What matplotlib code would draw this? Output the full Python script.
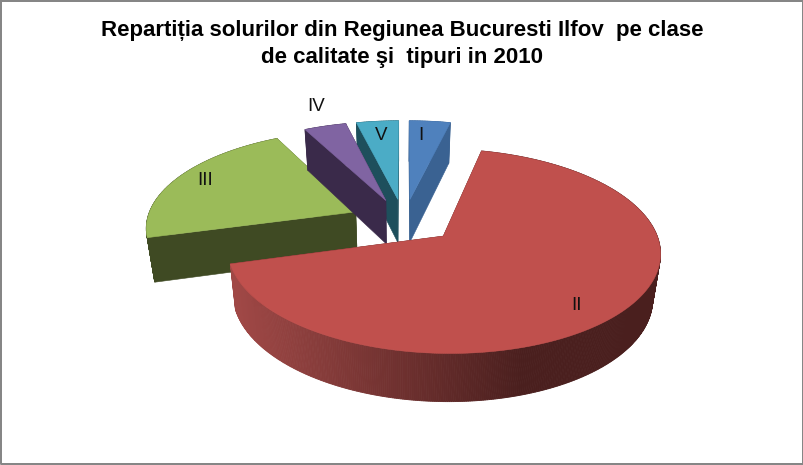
import numpy as np
import matplotlib
matplotlib.use('Agg')
import matplotlib.pyplot as plt
from matplotlib.colors import to_rgb

# share of each quality class, clockwise from 12 o'clock
categories = ['I', 'II', 'III', 'IV', 'V']
shares = [3.7, 67.0, 21.7, 3.8, 3.8]

top_colors = ['#4F81BD', '#C0504D', '#9BBB59', '#8064A2', '#4BACC6']
side_colors = ['#3A6292', '#4A1F1E', '#3F4A23', '#3A2A4A', '#1E4F5C']
label_pos = [(421, 135), (577, 305), (205, 180), (316, 106), (381, 135)]

title = 'Repartiția solurilor din Regiunea Bucuresti Ilfov  pe clase\nde calitate şi  tipuri in 2010'

# projection of the pie plane to pixels
CX, CY = 404, 220.5
KX, KY = 209, 95.5
PERSP = 0.144
EXPLODE_X, EXPLODE_Y = 0.255, 0.23
DEPTH = 44


def project(x, y, z=0.0):
    f = 1.0 / (1.0 + PERSP * y)
    px = CX + KX * x * f
    py = CY - KY * y * f + DEPTH * z * np.sqrt(f)
    # depth lines converge towards the middle
    px = px - 0.03 * z * (px - 400)
    return px, py


def slice_points(a0, a1, n):
    mid = (a0 + a1) / 2
    ox, oy = EXPLODE_X * np.sin(mid), EXPLODE_Y * np.cos(mid)
    ang = np.linspace(a0, a1, n)
    return ox, oy, ox + np.sin(ang), oy + np.cos(ang)


def draw_slice(ax, a0, a1, top, side, light=None):
    n = max(int(np.degrees(a1 - a0)) * 2, 6)
    ox, oy, rx, ry = slice_points(a0, a1, n)
    tx, ty = project(rx, ry)
    bx, by = project(rx, ry, 1.0)
    ax0, ay0 = project(ox, oy)
    ax1, ay1 = project(ox, oy, 1.0)

    # the two cut faces
    for j in (0, -1):
        ax.fill([ax0, tx[j], bx[j], ax1], [ay0, ty[j], by[j], ay1], color=side, lw=0.4)
    # outer wall, in strips so it can carry a gradient
    dark = np.array(to_rgb(side))
    for i in range(n - 1):
        col = dark
        if light is not None:
            t = np.clip((tx[i] - 235) / 290, 0, 1)
            col = np.array(to_rgb(light)) * (1 - t) + dark * t
        ax.fill([tx[i], tx[i + 1], bx[i + 1], bx[i]], [ty[i], ty[i + 1], by[i + 1], by[i]],
                color=col, lw=0.6)
    ax.fill(np.r_[ax0, tx], np.r_[ay0, ty], color=top, lw=0.4)


fig = plt.figure(figsize=(8.04, 4.65), dpi=100)
ax = fig.add_axes([0, 0, 1, 1])
ax.set_xlim(0, 804)
ax.set_ylim(465, 0)
ax.axis('off')

edges = np.radians(np.r_[0, np.cumsum(shares)] * 3.6)
# painter's order: back slices first, big red one on top
for i in [2, 4, 3, 0, 1]:
    light = '#A04846' if categories[i] == 'II' else None
    draw_slice(ax, edges[i], edges[i + 1], top_colors[i], side_colors[i], light)

for name, (lx, ly) in zip(categories, label_pos):
    ax.text(lx, ly, name, ha='center', va='center', fontsize=13.5,
            family='Liberation Sans', color='#111111')

ax.text(402, 44, title, ha='center', va='center', fontsize=16, fontweight='bold',
        family='Liberation Sans', linespacing=1.32, color='black')

# grey frame
ax.plot([1, 803, 803, 1, 1], [1, 1, 464, 464, 1], color='#868686', lw=1.44, clip_on=False)

fig.savefig('out.png', dpi=100)
